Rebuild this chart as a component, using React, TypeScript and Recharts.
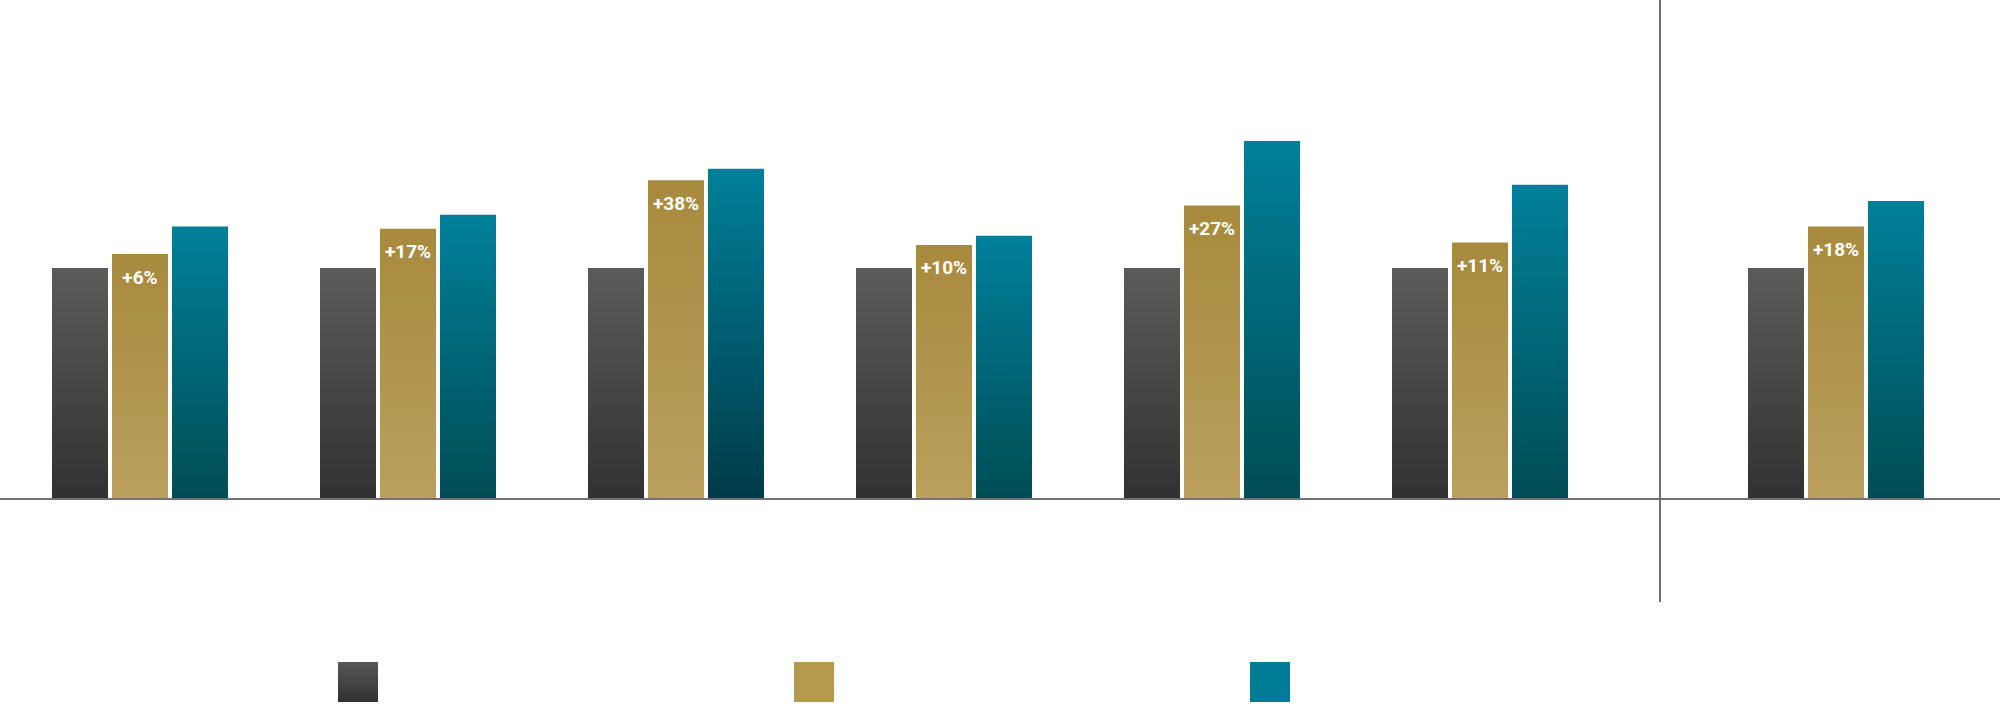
import { BarChart, Bar, XAxis, YAxis, LabelList, Cell, ReferenceLine } from 'recharts';

// Values indexed to the first series (= 100)
const categories = ['A', 'B', 'C', 'D', 'E', 'F', 'G'];
const baseValues = [100, 100, 100, 100, 100, 100, 100];
const midValues = [106, 117, 138, 110, 127, 111, 118];
const topValues = [118, 123, 143, 114, 155, 136, 129];
const changeLabels = ['+6%', '+17%', '+38%', '+10%', '+27%', '+11%', '+18%'];

// last category sits in its own panel, right of the divider
const splitAt = 6;

const rows = categories.map((name, i) => ({
  name,
  base: baseValues[i],
  mid: midValues[i],
  top: topValues[i],
  label: changeLabels[i],
}));

const leftRows = rows.slice(0, splitAt);
const rightRows = rows.slice(splitAt);

const AXIS_GRAY = '#717171';
const Y_MAX = 216;

const legendItems = [
  { key: 'base', background: 'linear-gradient(#575757, #323232)' },
  { key: 'mid', background: '#b5994d' },
  { key: 'top', background: '#007c96' },
];

function Gradients() {
  return (
    <defs>
      <linearGradient id="gDark" x1="0" y1="0" x2="0" y2="1">
        <stop offset="0%" stopColor="#5b5b5b" />
        <stop offset="100%" stopColor="#313133" />
      </linearGradient>
      <linearGradient id="gGold" x1="0" y1="0" x2="0" y2="1">
        <stop offset="0%" stopColor="#a88a3e" />
        <stop offset="100%" stopColor="#baa05d" />
      </linearGradient>
      <linearGradient id="gTeal" x1="0" y1="0" x2="0" y2="1">
        <stop offset="0%" stopColor="#00809a" />
        <stop offset="100%" stopColor="#004c54" />
      </linearGradient>
      <linearGradient id="gTealDeep" x1="0" y1="0" x2="0" y2="1">
        <stop offset="0%" stopColor="#00809a" />
        <stop offset="100%" stopColor="#003a49" />
      </linearGradient>
    </defs>
  );
}

function Panel({
  data,
  width,
  padLeft,
  padRight,
  offsetIndex,
}: {
  data: typeof rows;
  width: number;
  padLeft: number;
  padRight: number;
  offsetIndex: number;
}) {
  return (
    <BarChart
      width={width}
      height={704}
      data={data}
      margin={{ top: 0, right: 0, bottom: 205, left: 0 }}
      barSize={56}
      barGap={4}
    >
      <Gradients />
      <XAxis
        dataKey="name"
        height={0}
        tick={false}
        tickLine={false}
        axisLine={false}
        padding={{ left: padLeft, right: padRight }}
      />
      <YAxis hide domain={[0, Y_MAX]} />
      <Bar dataKey="base" fill="url(#gDark)" isAnimationActive={false} />
      <Bar dataKey="mid" fill="url(#gGold)" isAnimationActive={false}>
        <LabelList
          dataKey="label"
          position="insideTop"
          offset={16}
          fill="#ffffff"
          fontSize={19}
          fontWeight={700}
          fontFamily="Roboto, sans-serif"
        />
      </Bar>
      <Bar dataKey="top" fill="url(#gTeal)" isAnimationActive={false}>
        {data.map((_, i) => (
          <Cell
            key={`top-${i}`}
            fill={i + offsetIndex === 2 ? 'url(#gTealDeep)' : 'url(#gTeal)'}
          />
        ))}
      </Bar>
      <ReferenceLine y={0} stroke={AXIS_GRAY} strokeWidth={2} ifOverflow="visible" />
    </BarChart>
  );
}

export default function App() {
  return (
    <div
      style={{
        position: 'absolute',
        left: 0,
        top: 0,
        width: 2000,
        height: 704,
        background: '#ffffff',
        overflow: 'hidden',
      }}
    >
      <div style={{ position: 'absolute', left: 0, top: 0 }}>
        <Panel data={leftRows} width={1660} padLeft={6} padRight={46} offsetIndex={0} />
      </div>
      <div style={{ position: 'absolute', left: 1660, top: 0 }}>
        <Panel data={rightRows} width={340} padLeft={42} padRight={30} offsetIndex={splitAt} />
      </div>
      {/* divider between the two panels */}
      <div
        style={{
          position: 'absolute',
          left: 1659,
          top: 0,
          width: 2,
          height: 602,
          background: AXIS_GRAY,
        }}
      />
      {legendItems.map((item, i) => (
        <div
          key={item.key}
          style={{
            position: 'absolute',
            left: 338 + i * 456,
            top: 662,
            width: 40,
            height: 40,
            background: item.background,
          }}
        />
      ))}
    </div>
  );
}
